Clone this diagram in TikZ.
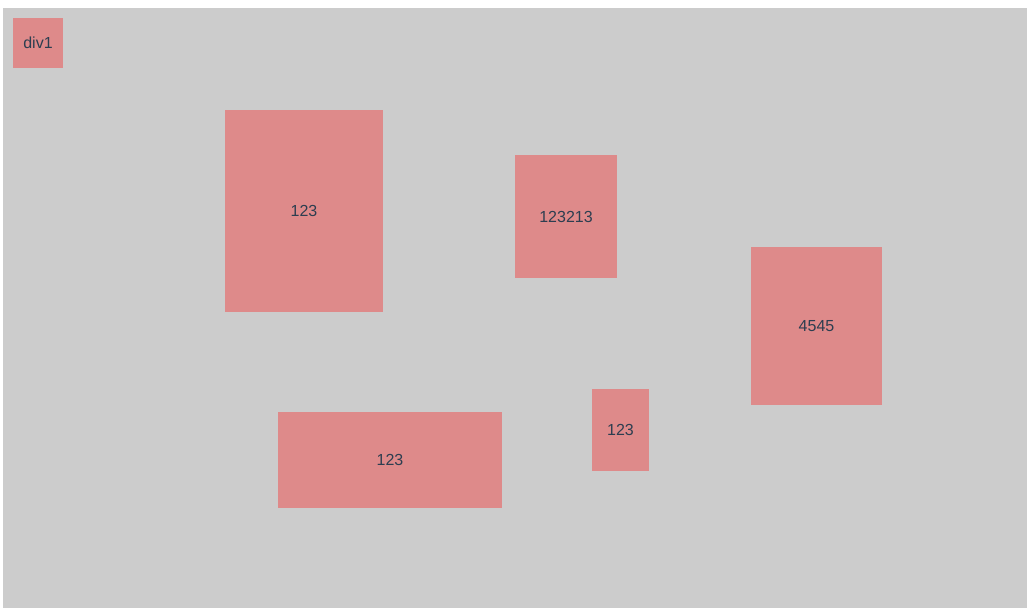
\documentclass[tikz,border=0pt]{standalone}
\usepackage{fontspec}
\setmainfont{Liberation Sans}
\usepackage{xcolor}
\usepackage{tikz}
\usetikzlibrary{positioning}

\definecolor{stage}{HTML}{CCCCCC}
\definecolor{boxred}{HTML}{DE8A8A}
\definecolor{boxtext}{HTML}{2C3E50}

\begin{document}
\begin{tikzpicture}[
  x=1pt, y=-1pt,
  block/.style={fill=boxred, draw=none, inner sep=0pt, text=boxtext,
    font=\fontsize{16}{19}\selectfont},
]
\useasboundingbox (0,0) rectangle (1027,608);

% Stage
\fill[stage] (3,8) rectangle (1027,608);

% Blocks
\node[block, minimum width=50, minimum height=50] (div1) at (38,43) {div1};
\node[block, minimum width=158, minimum height=202] (big) at (304,211) {123};
\node[block, minimum width=102, minimum height=123] (mid) at (566,216.5) {123213};
\node[block, minimum width=131, minimum height=158] (right) at (816.5,326) {4545};
\node[block, minimum width=224, minimum height=96] (wide) at (390,460) {123};
\node[block, minimum width=57, minimum height=82] (small) at (620.5,430) {123};

\end{tikzpicture}
\end{document}
